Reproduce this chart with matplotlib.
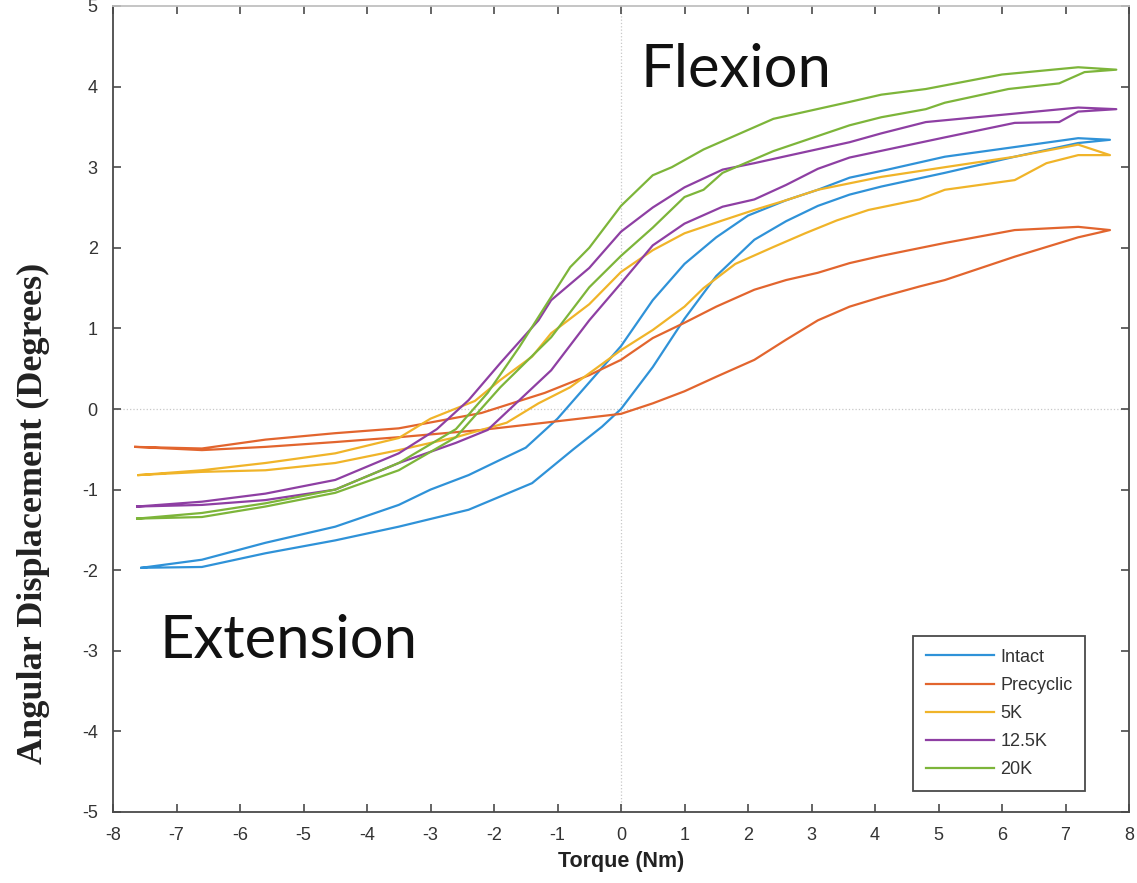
import matplotlib
matplotlib.use('Agg')
import matplotlib.pyplot as plt

plt.rcParams['axes.unicode_minus'] = False

# loading (lower) and unloading (upper) branches of each loop
intact_lo_x = [-7.55, -6.6, -5.6, -4.5, -3.5, -2.4, -1.4, -0.75, -0.3, 0.0, 0.5, 1.0, 1.5, 2.1, 2.6, 3.1, 3.6, 4.1, 5.1, 6.2, 7.2, 7.7]
intact_lo_y = [-1.97, -1.96, -1.79, -1.63, -1.46, -1.25, -0.92, -0.5, -0.22, 0.0, 0.52, 1.12, 1.65, 2.1, 2.33, 2.52, 2.66, 2.76, 2.93, 3.13, 3.3, 3.34]
intact_up_x = [-7.55, -6.6, -5.6, -4.5, -3.5, -3.0, -2.4, -1.9, -1.5, -1.0, -0.5, 0.0, 0.5, 1.0, 1.5, 2.0, 2.6, 3.1, 3.6, 4.2, 5.1, 6.2, 7.2, 7.7]
intact_up_y = [-1.97, -1.87, -1.66, -1.46, -1.19, -1.0, -0.82, -0.63, -0.48, -0.12, 0.33, 0.78, 1.35, 1.8, 2.13, 2.4, 2.59, 2.72, 2.87, 2.97, 3.13, 3.25, 3.36, 3.34]

pre_lo_x = [-7.65, -6.6, -5.6, -4.5, -3.5, -2.2, -1.2, 0.0, 0.5, 1.0, 1.5, 2.1, 2.6, 3.1, 3.6, 4.1, 4.7, 5.1, 6.2, 7.2, 7.7]
pre_lo_y = [-0.47, -0.51, -0.47, -0.41, -0.35, -0.26, -0.17, -0.06, 0.07, 0.22, 0.4, 0.61, 0.86, 1.1, 1.27, 1.39, 1.52, 1.6, 1.89, 2.13, 2.22]
pre_up_x = [-7.65, -6.6, -5.6, -4.5, -3.5, -2.2, -1.2, -0.5, 0.0, 0.5, 1.0, 1.5, 2.1, 2.6, 3.1, 3.6, 4.1, 5.1, 6.2, 7.2, 7.7]
pre_up_y = [-0.47, -0.49, -0.38, -0.3, -0.24, -0.05, 0.2, 0.42, 0.61, 0.88, 1.07, 1.27, 1.48, 1.6, 1.69, 1.81, 1.9, 2.06, 2.22, 2.26, 2.22]

k5_lo_x = [-7.6, -6.6, -5.6, -4.5, -3.5, -2.6, -1.8, -1.3, -0.8, 0.0, 0.5, 1.0, 1.3, 1.8, 2.4, 2.9, 3.4, 3.9, 4.7, 5.1, 6.2, 6.7, 7.2, 7.7]
k5_lo_y = [-0.82, -0.78, -0.76, -0.67, -0.51, -0.35, -0.17, 0.07, 0.27, 0.73, 0.98, 1.27, 1.5, 1.8, 2.01, 2.18, 2.34, 2.47, 2.6, 2.72, 2.84, 3.05, 3.15, 3.15]
k5_up_x = [-7.6, -6.6, -5.6, -4.5, -3.5, -3.0, -2.3, -1.9, -1.4, -1.1, -0.5, 0.0, 0.5, 1.0, 1.6, 2.1, 2.6, 3.1, 3.6, 4.1, 5.1, 6.2, 7.2, 7.7]
k5_up_y = [-0.82, -0.76, -0.67, -0.55, -0.36, -0.12, 0.1, 0.36, 0.65, 0.94, 1.3, 1.7, 1.97, 2.18, 2.34, 2.47, 2.59, 2.72, 2.8, 2.88, 3.0, 3.13, 3.28, 3.15]

k125_lo_x = [-7.62, -6.6, -5.6, -4.5, -3.5, -2.6, -2.1, -1.6, -1.1, -0.5, 0.0, 0.5, 1.0, 1.6, 2.1, 2.6, 3.1, 3.6, 4.2, 5.1, 6.2, 6.9, 7.2, 7.8]
k125_lo_y = [-1.21, -1.19, -1.13, -1.0, -0.67, -0.42, -0.26, 0.11, 0.48, 1.1, 1.56, 2.03, 2.3, 2.51, 2.6, 2.78, 2.98, 3.12, 3.22, 3.37, 3.55, 3.56, 3.69, 3.72]
k125_up_x = [-7.62, -6.6, -5.6, -4.5, -3.5, -2.9, -2.4, -1.9, -1.3, -1.1, -0.5, 0.0, 0.5, 1.0, 1.6, 2.1, 2.5, 3.6, 4.1, 4.8, 6.0, 7.2, 7.8]
k125_up_y = [-1.21, -1.15, -1.05, -0.88, -0.55, -0.25, 0.11, 0.57, 1.1, 1.35, 1.75, 2.2, 2.5, 2.75, 2.97, 3.05, 3.12, 3.31, 3.42, 3.56, 3.65, 3.74, 3.72]

k20_lo_x = [-7.62, -6.6, -5.6, -4.5, -3.5, -2.6, -1.9, -1.1, -0.5, 0.0, 0.5, 1.0, 1.3, 1.6, 2.4, 3.6, 4.1, 4.8, 5.1, 6.1, 6.9, 7.3, 7.8]
k20_lo_y = [-1.36, -1.34, -1.21, -1.04, -0.76, -0.35, 0.27, 0.89, 1.51, 1.9, 2.25, 2.63, 2.72, 2.93, 3.2, 3.52, 3.62, 3.72, 3.8, 3.97, 4.04, 4.18, 4.21]
k20_up_x = [-7.62, -6.6, -5.6, -4.5, -3.5, -2.6, -2.1, -1.6, -1.1, -0.8, -0.5, 0.0, 0.5, 0.8, 1.3, 2.4, 3.6, 4.1, 4.8, 6.0, 7.2, 7.8]
k20_up_y = [-1.36, -1.29, -1.17, -1.0, -0.67, -0.25, 0.2, 0.77, 1.39, 1.76, 2.0, 2.52, 2.9, 3.0, 3.22, 3.6, 3.81, 3.9, 3.97, 4.15, 4.24, 4.21]

labels = ['Intact', 'Precyclic', '5K', '12.5K', '20K']
colors = ['#2f92d8', '#e2652e', '#f0b429', '#8e3fa3', '#7db53a']

loops = [
    (intact_lo_x, intact_lo_y, intact_up_x, intact_up_y),
    (pre_lo_x, pre_lo_y, pre_up_x, pre_up_y),
    (k5_lo_x, k5_lo_y, k5_up_x, k5_up_y),
    (k125_lo_x, k125_lo_y, k125_up_x, k125_up_y),
    (k20_lo_x, k20_lo_y, k20_up_x, k20_up_y),
]

fig = plt.figure(figsize=(11.37, 8.83), dpi=100)
ax = fig.add_axes([113 / 1137, 71 / 883, 1016 / 1137, 806 / 883])

ax.axhline(0, color='#c8c8c8', lw=0.9, ls=':', zorder=0)
ax.axvline(0, color='#c8c8c8', lw=0.9, ls=':', zorder=0)

for (lx, ly, ux, uy), lab, c in zip(loops, labels, colors):
    # out along the loading branch, back along the unloading branch
    xs = lx + ux[::-1]
    ys = ly + uy[::-1]
    ax.plot(xs, ys, color=c, lw=1.6, label=lab)

ax.set_xlim(-8, 8)
ax.set_ylim(-5, 5)
ax.set_xticks(range(-8, 9))
ax.set_yticks(range(-5, 6))

for side in ['left', 'bottom', 'right']:
    ax.spines[side].set_color('#4a4a4a')
    ax.spines[side].set_linewidth(1.3)
ax.spines['top'].set_color('#c0c0c0')
ax.spines['top'].set_linewidth(1.3)

ax.tick_params(direction='in', length=6, width=1.2, color='#4a4a4a',
               top=True, right=True, labelsize=13, labelcolor='#333333')
ax.tick_params(axis='x', pad=11)
ax.tick_params(axis='y', pad=11)
for t in ax.get_xticklabels() + ax.get_yticklabels():
    t.set_family('Liberation Sans')

ax.set_xlabel('Torque (Nm)', fontsize=15.5, fontweight='bold', family='Liberation Sans',
              color='#222222', labelpad=5)
fig.text(33 / 1137, 1 - 513 / 883, 'Angular Displacement (Degrees)', rotation=90,
         ha='center', va='center', fontsize=26, fontweight='bold',
         family='Liberation Serif', color='#222222')

ax.text(0.3, 4.0, 'Flexion', fontsize=43, family='Lato', color='#111111',
        ha='left', va='baseline')
ax.text(-7.26, -3.09, 'Extension', fontsize=43, family='Lato', color='#111111',
        ha='left', va='baseline')

leg = ax.legend(loc='upper left', bbox_to_anchor=(913 / 1137, 1 - 636 / 883),
                bbox_transform=fig.transFigure, borderaxespad=0, fancybox=False,
                framealpha=1, edgecolor='#4a4a4a', handlelength=3.8, handletextpad=0.35,
                borderpad=0.7, prop={'family': 'Liberation Sans', 'size': 13},
                labelspacing=0.62)
leg.get_frame().set_linewidth(1.3)
for t in leg.get_texts():
    t.set_color('#333333')

fig.savefig('out.png', dpi=100)
